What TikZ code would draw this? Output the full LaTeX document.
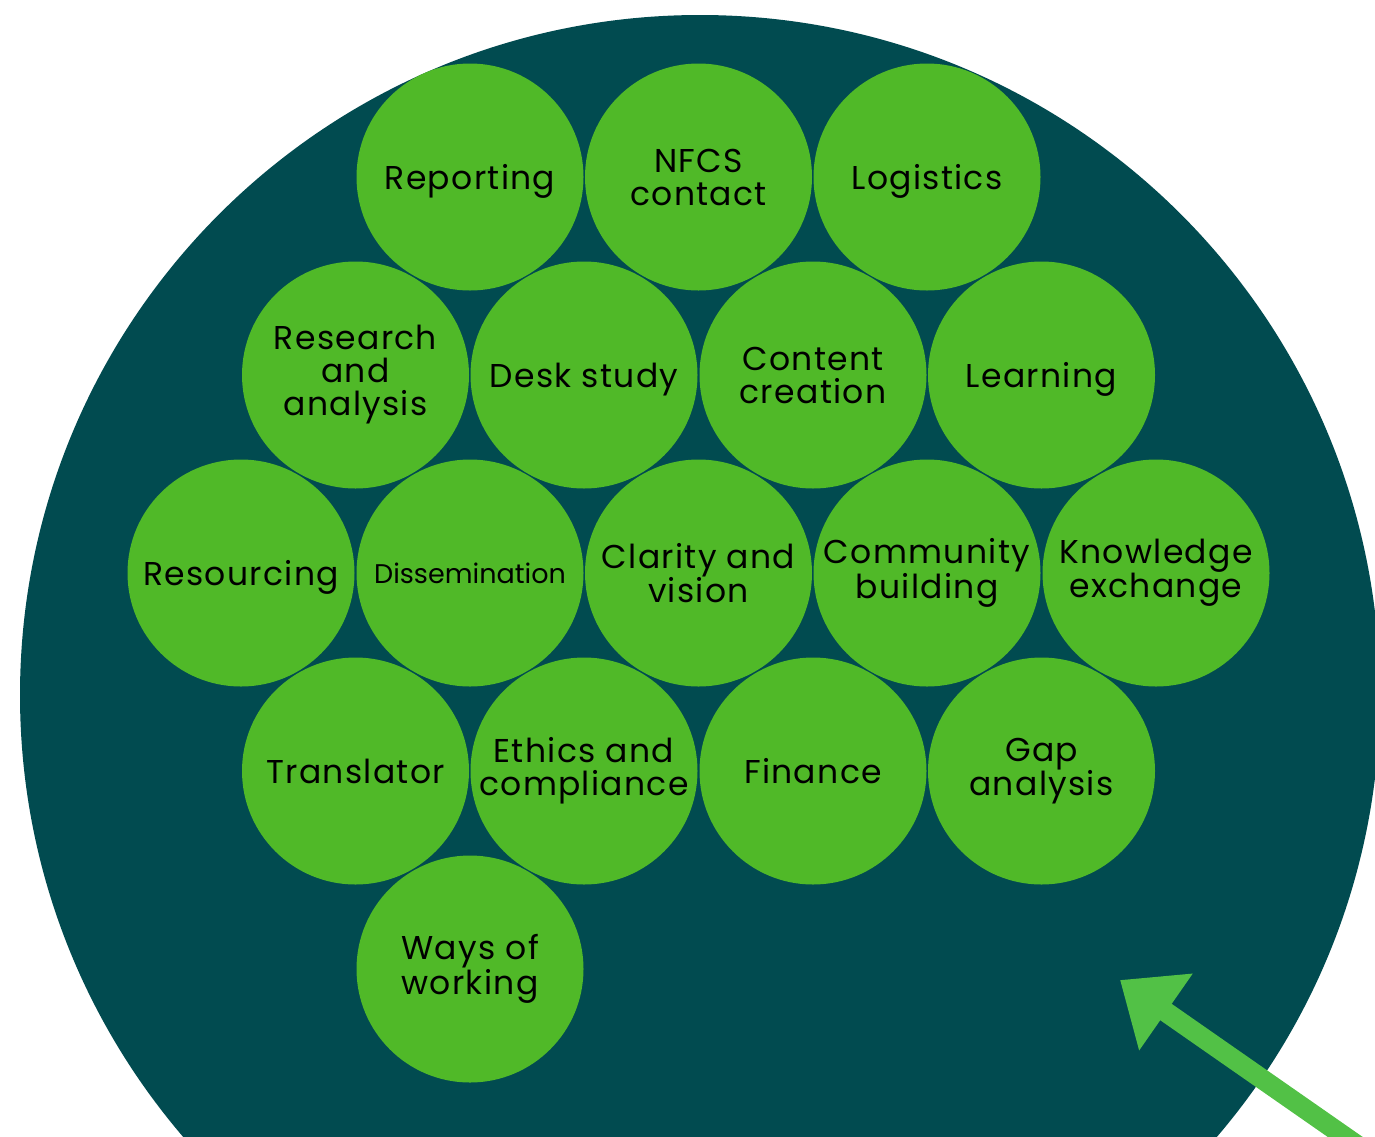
\documentclass[tikz,border=0pt]{standalone}
\usepackage{fontspec}
\setmainfont{Poppins}[LetterSpace=4]
\newfontfamily\tightfont{Poppins}
\usetikzlibrary{arrows.meta}
\definecolor{deepteal}{HTML}{014B50}
\definecolor{leafgreen}{HTML}{50B928}
\definecolor{arrowgreen}{HTML}{52C146}
\begin{document}
\begin{tikzpicture}[x=1pt,y=-1pt,
  bubble/.style={circle, fill=leafgreen, minimum size=227pt, inner sep=0pt,
    align=center, text=black, font=\fontsize{33}{33}\selectfont},
  oneline/.style={text height=25pt, text depth=1pt},
  smalllabel/.style={font=\tightfont\fontsize{27}{30}\selectfont}]
\useasboundingbox (0,0) rectangle (1375,1136);
\clip (0,0) rectangle (1375,1136);

% background disc
\fill[deepteal] (700,695) circle[radius=680pt];

% row 1
\node[bubble, oneline] (rep)  at (470,177) {Reporting};
\node[bubble] (nfcs) at (698.5,177) {NFCS\\contact};
\node[bubble, oneline] (log)  at (927,177) {Logistics};
% row 2
\node[bubble] (res)   at (355.5,375) {Research\\and\\analysis};
\node[bubble, oneline] (desk)  at (584,375) {Desk study};
\node[bubble] (cont)  at (813,375) {Content\\creation};
\node[bubble, oneline] (learn) at (1041.5,375) {Learning};
% row 3
\node[bubble, oneline] (resc) at (241,573) {Resourcing};
\node[bubble, smalllabel] (diss) at (470,573) {Dissemination};
\node[bubble] (clar) at (698.5,573) {Clarity and\\vision};
\node[bubble] (comm) at (927,573) {Community\\building};
\node[bubble] (know) at (1156,573) {Knowledge\\exchange};
% row 4
\node[bubble, oneline] (trans) at (355.5,771) {Translator};
\node[bubble] (eth)   at (584,771) {Ethics and\\compliance};
\node[bubble, oneline] (fin)   at (813,771) {Finance};
\node[bubble] (gap)   at (1041.5,771) {Gap\\analysis};
% row 5
\node[bubble] (ways) at (470,969) {Ways of\\working};

% pointer arrow
\coordinate (tail) at (1374,1157);
\coordinate (tip) at (1120,980);
\draw[arrowgreen, line width=20pt, -{Triangle[length=56pt,width=90pt]}] (tail) -- (tip);
\end{tikzpicture}
\end{document}
